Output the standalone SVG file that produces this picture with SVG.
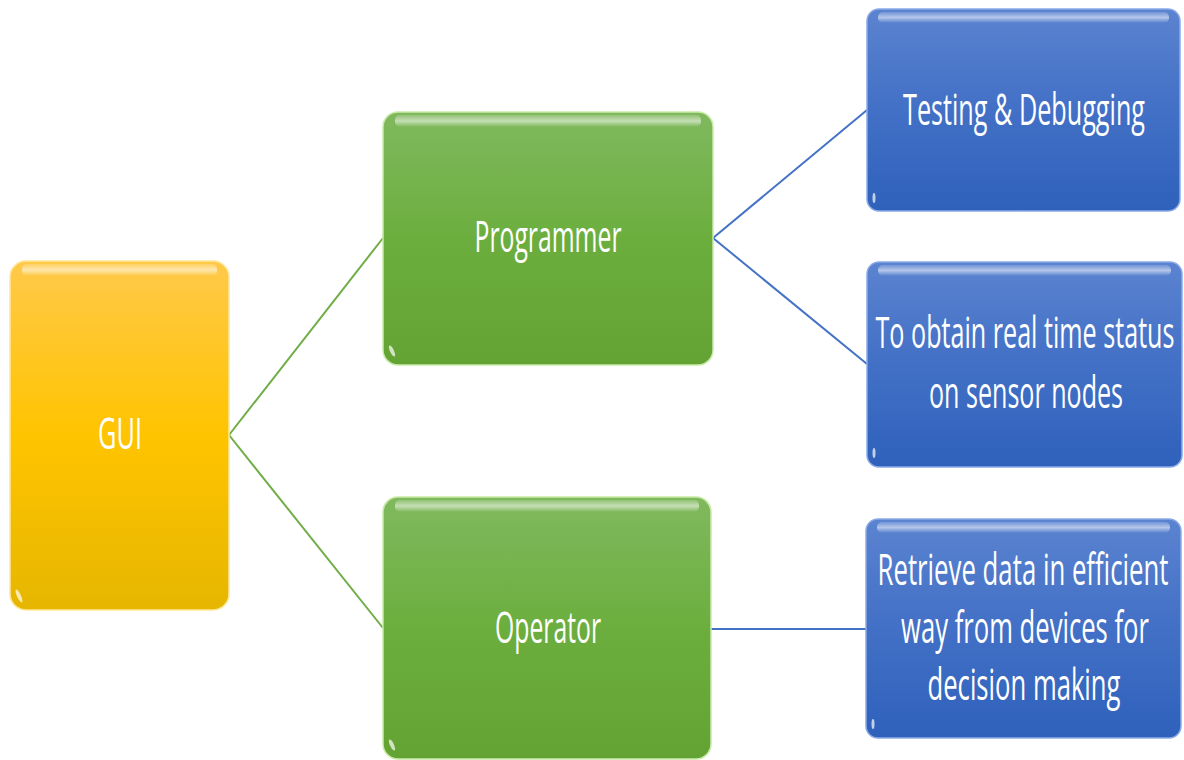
<svg xmlns="http://www.w3.org/2000/svg" width="1184" height="760" viewBox="0 0 1184 760">
<defs>
<linearGradient id="gY" x1="0" y1="0" x2="0" y2="1">
<stop offset="0" stop-color="#FFC94A"/><stop offset="0.5" stop-color="#FFC400"/><stop offset="1" stop-color="#E6B600"/>
</linearGradient>
<linearGradient id="gG" x1="0" y1="0" x2="0" y2="1">
<stop offset="0" stop-color="#80B95E"/><stop offset="0.5" stop-color="#6CAE3E"/><stop offset="1" stop-color="#63A334"/>
</linearGradient>
<linearGradient id="gB" x1="0" y1="0" x2="0" y2="1">
<stop offset="0" stop-color="#5B83D0"/><stop offset="0.5" stop-color="#4270C6"/><stop offset="1" stop-color="#2F61BB"/>
</linearGradient>
<linearGradient id="hl" x1="0" y1="0" x2="0" y2="1">
<stop offset="0" stop-color="#FFFFFF" stop-opacity="0.15"/><stop offset="0.5" stop-color="#FFFFFF" stop-opacity="0.55"/><stop offset="1" stop-color="#FFFFFF" stop-opacity="0"/>
</linearGradient>
</defs>
<style>
.lbl{font-family:"Open Sans","Noto Sans","Liberation Sans",sans-serif;font-size:24px;fill:#FFFFFF;text-anchor:middle}
.y{fill:url(#gY);stroke:#FFE79A;stroke-width:1.5}
.g{fill:url(#gG);stroke:#C9EBA8;stroke-width:1.5}
.b{fill:url(#gB);stroke:#8AAAE6;stroke-width:1.5}
.hi{fill:url(#hl)}
.cg{stroke:#70AD47;stroke-width:2;fill:none}
.cb{stroke:#4472C4;stroke-width:2;fill:none}
.spot{fill:#FFFFFF;opacity:0.7}
</style>
<g id="connectors">
<line class="cg" x1="229" y1="435" x2="383" y2="238"/>
<line class="cg" x1="229" y1="435" x2="383" y2="628"/>
<line class="cb" x1="713" y1="238" x2="867" y2="110"/>
<line class="cb" x1="713" y1="238" x2="867" y2="364"/>
<line class="cb" x1="711" y1="629" x2="866" y2="629" stroke-width="3"/>
</g>
<g id="gui">
<rect class="y" x="10" y="261" width="219" height="349" rx="16"/>
<rect class="hi" x="22" y="264" width="195" height="12" rx="5"/>
<ellipse class="spot" cx="19" cy="596" rx="2" ry="7" transform="rotate(-25 19 596)"/>
<text class="lbl" transform="translate(120,449) scale(1,1.8)" x="0" y="0" textLength="44" lengthAdjust="spacingAndGlyphs">GUI</text>
</g>
<g id="programmer">
<rect class="g" x="383" y="112" width="330" height="253" rx="15"/>
<rect class="hi" x="395" y="115" width="306" height="12" rx="5"/>
<ellipse class="spot" cx="392" cy="351" rx="2" ry="6" transform="rotate(-25 392 351)"/>
<text class="lbl" transform="translate(548,252) scale(1,1.8)" x="0" y="0" textLength="147" lengthAdjust="spacingAndGlyphs">Programmer</text>
</g>
<g id="operator">
<rect class="g" x="383" y="497" width="328" height="262" rx="15"/>
<rect class="hi" x="395" y="500" width="304" height="12" rx="5"/>
<ellipse class="spot" cx="392" cy="745" rx="2" ry="6" transform="rotate(-25 392 745)"/>
<text class="lbl" transform="translate(548,643) scale(1,1.8)" x="0" y="0" textLength="106" lengthAdjust="spacingAndGlyphs">Operator</text>
</g>
<g id="testing">
<rect class="b" x="867" y="9" width="313" height="202" rx="12"/>
<rect class="hi" x="878" y="12" width="291" height="11" rx="5"/>
<ellipse class="spot" cx="874" cy="198" rx="1.5" ry="5"/>
<text class="lbl" transform="translate(1024,125) scale(1,1.8)" x="0" y="0" textLength="242" lengthAdjust="spacingAndGlyphs">Testing &amp; Debugging</text>
</g>
<g id="status">
<rect class="b" x="867" y="262" width="315" height="205" rx="12"/>
<rect class="hi" x="878" y="265" width="293" height="11" rx="5"/>
<ellipse class="spot" cx="874" cy="453" rx="1.5" ry="5"/>
<text class="lbl" transform="translate(1025,348) scale(1,1.8)" x="0" y="0" textLength="299" lengthAdjust="spacingAndGlyphs">To obtain real time status</text>
<text class="lbl" transform="translate(1026,408) scale(1,1.8)" x="0" y="0" textLength="194" lengthAdjust="spacingAndGlyphs">on sensor nodes</text>
</g>
<g id="retrieve">
<rect class="b" x="866" y="519" width="315" height="219" rx="12"/>
<rect class="hi" x="877" y="522" width="293" height="11" rx="5"/>
<ellipse class="spot" cx="873" cy="724" rx="1.5" ry="5"/>
<text class="lbl" transform="translate(1023,585) scale(1,1.8)" x="0" y="0" textLength="291" lengthAdjust="spacingAndGlyphs">Retrieve data in efficient</text>
<text class="lbl" transform="translate(1025,643) scale(1,1.8)" x="0" y="0" textLength="248" lengthAdjust="spacingAndGlyphs">way from devices for</text>
<text class="lbl" transform="translate(1024,700) scale(1,1.8)" x="0" y="0" textLength="193" lengthAdjust="spacingAndGlyphs">decision making</text>
</g>
</svg>
